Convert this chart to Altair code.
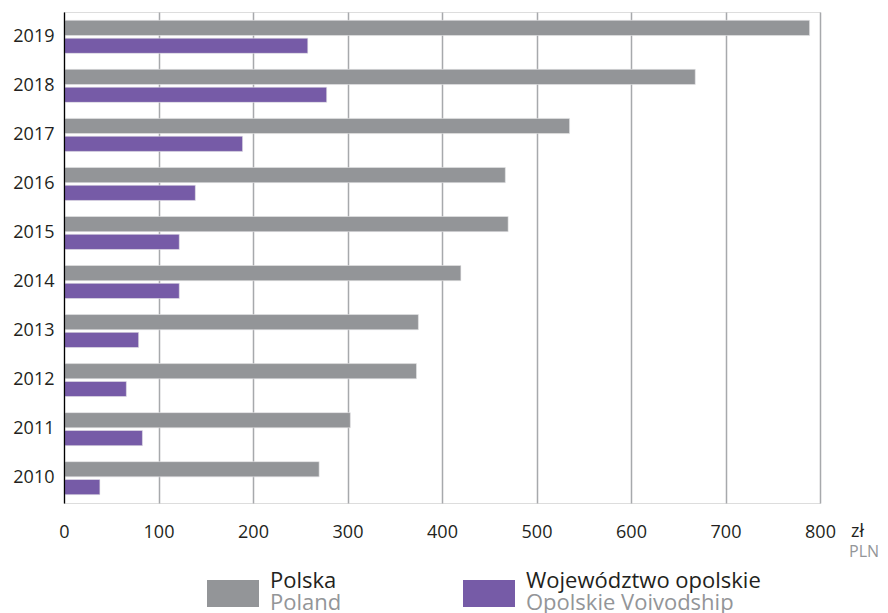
import altair as alt
import pandas as pd

years = ["2010", "2011", "2012", "2013", "2014", "2015", "2016", "2017", "2018", "2019"]
polska = [270, 303, 373, 375, 420, 470, 467, 535, 668, 789]
opolskie = [38, 83, 66, 79, 122, 122, 139, 189, 278, 258]
series_pl = ["Polska", "Województwo opolskie"]
series_en = ["Poland", "Opolskie Voivodship"]
colors = ["#939598", "#765ba7"]
x_ticks = [0, 100, 200, 300, 400, 500, 600, 700, 800]

rows = []
for i, yr in enumerate(years):
    rows.append({"year": yr, "series": series_pl[0], "value": polska[i]})
    rows.append({"year": yr, "series": series_pl[1], "value": opolskie[i]})
df = pd.DataFrame(rows)

FONT = "Open Sans"
DARK = "#231f20"

bars = alt.Chart(df).mark_bar(stroke="#e6e6e8", strokeWidth=0.6).encode(
    x=alt.X("value:Q", scale=alt.Scale(domain=[0, 800], nice=False),
            axis=alt.Axis(values=x_ticks, title=None, grid=True, gridColor="#a7a9ac",
                          gridWidth=1.5, domain=False, ticks=False, labelFontSize=18,
                          labelFont=FONT, labelColor=DARK, labelPadding=20,
                          labelFlush=False, zindex=0)),
    y=alt.Y("year:N", sort="descending",
            scale=alt.Scale(paddingInner=0.327, paddingOuter=0.17),
            axis=alt.Axis(title=None, ticks=False, domain=True, domainColor="#000000",
                          domainWidth=1.2, labelFontSize=18, labelFont=FONT,
                          labelColor=DARK, labelPadding=10, zindex=1)),
    yOffset=alt.YOffset("series:N", sort=series_pl, scale=alt.Scale(paddingInner=0.146)),
    color=alt.Color("series:N", scale=alt.Scale(domain=series_pl, range=colors), legend=None),
)

layers = [bars]

# Legend (manual, two-line labels)
sw_x = [143, 399]
for i in range(2):
    sw = alt.Chart(pd.DataFrame({"s": [series_pl[i]]})).mark_rect(color=colors[i]).encode(
        x=alt.value(sw_x[i]), x2=alt.value(sw_x[i] + 52),
        y=alt.value(568), y2=alt.value(595))
    t1 = alt.Chart(pd.DataFrame({"s": [series_pl[i]]})).mark_text(
        align="left", baseline="alphabetic", fontSize=22, font=FONT, color=DARK).encode(
        x=alt.value(sw_x[i] + 63), y=alt.value(576), text="s:N")
    t2 = alt.Chart(pd.DataFrame({"s": [series_en[i]]})).mark_text(
        align="left", baseline="alphabetic", fontSize=22, font=FONT, color="#939598").encode(
        x=alt.value(sw_x[i] + 63), y=alt.value(598), text="s:N")
    layers += [sw, t1, t2]

unit1 = alt.Chart(pd.DataFrame({"s": ["zł"]})).mark_text(
    align="left", baseline="alphabetic", fontSize=18, font=FONT, color=DARK).encode(
    x=alt.value(787), y=alt.value(525), text="s:N")
unit2 = alt.Chart(pd.DataFrame({"s": ["PLN"]})).mark_text(
    align="left", baseline="alphabetic", fontSize=16, font=FONT, color="#939598").encode(
    x=alt.value(785), y=alt.value(545), text="s:N")
layers += [unit1, unit2]

chart = alt.layer(*layers).properties(
    width=756, height=491,
    autosize=alt.AutoSizeParams(type="none"),
    padding={"left": 56, "top": 4, "right": 60, "bottom": 110},
).configure_view(stroke=None).configure(background="white")

chart.save("out.html", embed_options={"renderer": "svg", "actions": False})
